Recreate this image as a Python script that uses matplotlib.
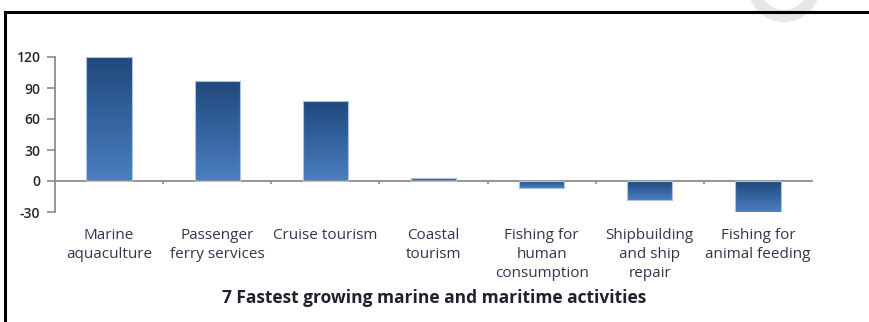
import numpy as np
import matplotlib
matplotlib.use("Agg")
import matplotlib.pyplot as plt
from matplotlib.colors import LinearSegmentedColormap
from matplotlib.patches import Wedge
from matplotlib.transforms import Bbox, IdentityTransform, blended_transform_factory

categories = [
    "Marine\naquaculture",
    "Passenger\nferry services",
    "Cruise tourism",
    "Coastal\ntourism",
    "Fishing for\nhuman\nconsumption",
    "Shipbuilding\nand ship\nrepair",
    "Fishing for\nanimal feeding",
]
growth = [120, 97, 77, 3, -7, -18, -30]
yticks = [-30, 0, 30, 60, 90, 120]
title = "7 Fastest growing marine and maritime activities"

plt.rcParams["font.family"] = ["Open Sans", "DejaVu Sans"]

W, H = 870, 322
fig = plt.figure(figsize=(W / 100, H / 100), dpi=100)

# faint background ring near the top-right corner (pixel coordinates)
ring = Wedge((784, H + 14), 36, 180, 360, width=12,
             transform=IdentityTransform(), facecolor="#e6e6e6", edgecolor="none")
fig.patches.append(ring)

# frame lines on the top and left
fig.add_artist(plt.Line2D([5.5 / W, 1], [1 - 12 / H, 1 - 12 / H], color="black",
                          lw=2.2, transform=fig.transFigure))
fig.add_artist(plt.Line2D([5.5 / W, 5.5 / W], [0, 1 - 12 / H], color="black",
                          lw=2.2, transform=fig.transFigure))

ax = fig.add_axes([55 / W, 1 - 212 / H, (812 - 55) / W, (212 - 57) / H])
x = np.arange(len(categories))
bars = ax.bar(x, growth, width=0.42, facecolor="none", edgecolor="#a9c4e6",
              linewidth=0.8, zorder=3)

cmap = LinearSegmentedColormap.from_list("excel_blue", ["#1f487c", "#4a7fc1"])
grad = np.linspace(0, 1, 256).reshape(-1, 1)
for b, v in zip(bars, growth):
    x0 = b.get_x()
    x1 = x0 + b.get_width()
    top, bot = (v, 0) if v >= 0 else (0, v)
    im = ax.imshow(grad, cmap=cmap, aspect="auto", extent=[x0, x1, bot, top],
                   origin="upper", zorder=2, interpolation="bilinear")
    im.set_clip_path(b)

ax.set_xlim(-0.5, len(categories) - 0.5)
ax.set_ylim(-30, 120)
ax.set_yticks(yticks)
ax.set_yticklabels([str(t) for t in yticks], fontsize=10, color="#2a2235",
                   fontweight="semibold")

for s in ["top", "right"]:
    ax.spines[s].set_visible(False)
ax.spines["left"].set_color("#8c8c8c")
ax.spines["left"].set_linewidth(1.3)
ax.spines["bottom"].set_position(("data", 0))
ax.spines["bottom"].set_color("#8c8c8c")
ax.spines["bottom"].set_linewidth(1.3)
ax.tick_params(axis="y", direction="out", length=5.5, width=1.2, color="#8c8c8c", pad=5)
ax.set_xticks(x[:-1] + 0.5)
ax.set_xticklabels([])
ax.tick_params(axis="x", direction="out", length=2.5, width=1.2, color="#8c8c8c")

# category labels below the plot, clipped at the right end of the axis
trans = blended_transform_factory(ax.transData, fig.transFigure)
clip = Bbox([[0, 0], [812, H]])
for xi, lab in zip(x, categories):
    t = ax.text(xi, 1 - 228 / H, lab, transform=trans, ha="center", va="top",
                fontsize=11, color="#3d3050", linespacing=1.38, clip_on=True)
    t.set_clip_box(clip)

fig.text(434 / W, 1 - 298 / H, title, ha="center", va="center", fontsize=12.5,
         fontweight="bold", color="#231f2e")

fig.savefig("out.png", dpi=100, facecolor="white")
